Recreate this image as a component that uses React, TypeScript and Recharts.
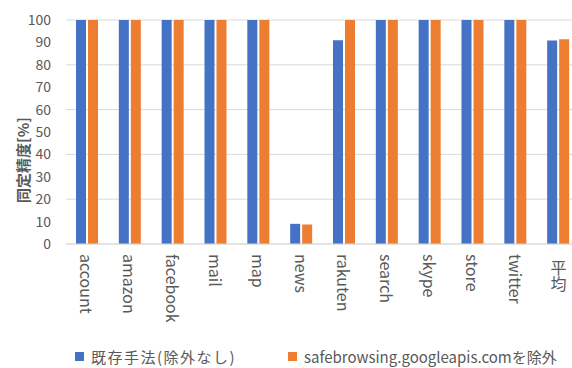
import React from "react"
import { BarChart, Bar, XAxis, YAxis, CartesianGrid, Legend } from "recharts"

// categories (last one is the average)
const categories = ["account", "amazon", "facebook", "mail", "map", "news", "rakuten", "search", "skype", "store", "twitter", "平均"]
const baseline = [100, 100, 100, 100, 100, 9, 91, 100, 100, 100, 100, 90.9]
const excluded = [100, 100, 100, 100, 100, 8.7, 100, 100, 100, 100, 100, 91.4]
const yTicks = [0, 10, 20, 30, 40, 50, 60, 70, 80, 90, 100]

const seriesNames = ["既存手法(除外なし)", "safebrowsing.googleapis.comを除外"]
const BLUE = "#4472C4"
const ORANGE = "#ED7D31"
const FONT = '"Noto Sans CJK JP", "Noto Sans", sans-serif'
const TEXT = "#595959"

const data = categories.map((name, i) => ({ name, a: baseline[i], b: excluded[i] }))

function CategoryTick(props: any) {
  const { x, y, payload } = props
  const label: string = payload.value
  // CJK labels are stacked upright, latin ones are turned 90deg
  if (/^[\u3000-\u9fff]+$/.test(label)) {
    return (
      <text
        x={x}
        y={y + 8}
        style={{ writingMode: "vertical-rl" }}
        textAnchor="start"
        fill={TEXT}
        fontSize={16}
        fontFamily={FONT}
      >
        {label}
      </text>
    )
  }
  return (
    <text
      x={x}
      y={y + 2}
      transform={`rotate(90 ${x} ${y + 2})`}
      textAnchor="start"
      dominantBaseline="central"
      fill={TEXT}
      fontSize={16}
      fontFamily={FONT}
    >
      {label}
    </text>
  )
}

function LegendBox() {
  const items = [
    { name: seriesNames[0], color: BLUE, x: 75, spacing: 1.5 },
    { name: seriesNames[1], color: ORANGE, x: 288, spacing: 0 },
  ]
  return (
    <div style={{ position: "relative", height: 24 }}>
      {items.map((it) => (
        <div
          key={it.name}
          style={{
            position: "absolute",
            left: it.x,
            top: 2,
            display: "flex",
            alignItems: "center",
            fontFamily: FONT,
            fontSize: 15,
            color: TEXT,
            whiteSpace: "nowrap",
            letterSpacing: it.spacing,
          }}
        >
          <span style={{ display: "inline-block", width: 9, height: 9, background: it.color, marginRight: 7 }} />
          {it.name}
        </div>
      ))}
    </div>
  )
}

export default function App() {
  return (
    <div style={{ position: "absolute", left: 0, top: 0, width: 572, height: 368, overflow: "hidden", background: "#fff" }}>
      <BarChart
        width={590}
        height={368}
        data={data}
        margin={{ top: 20, right: 10, left: 0, bottom: 0 }}
        barSize={10}
        barGap={2}
      >
        <CartesianGrid vertical={false} stroke="#D9D9D9" />
        <XAxis
          dataKey="name"
          interval={0}
          height={100}
          axisLine={{ stroke: "#D9D9D9" }}
          tickLine={false}
          tick={<CategoryTick />}
        />
        <YAxis
          width={66}
          domain={[0, 100]}
          ticks={yTicks}
          axisLine={false}
          tickLine={false}
          tickMargin={9}
          tick={{ fill: TEXT, fontSize: 14, fontFamily: FONT }}
          label={{
            content: () => (
              <text
                x={22}
                y={160}
                transform="rotate(-90 22 160)"
                textAnchor="middle"
                dominantBaseline="central"
                fill={TEXT}
                fontSize={15}
                fontWeight="bold"
                fontFamily={FONT}
              >
                同定精度[%]
              </text>
            ),
          }}
        />
        <Legend verticalAlign="bottom" height={24} content={() => <LegendBox />} />
        <Bar dataKey="a" name={seriesNames[0]} fill={BLUE} isAnimationActive={false} />
        <Bar dataKey="b" name={seriesNames[1]} fill={ORANGE} isAnimationActive={false} />
      </BarChart>
    </div>
  )
}
